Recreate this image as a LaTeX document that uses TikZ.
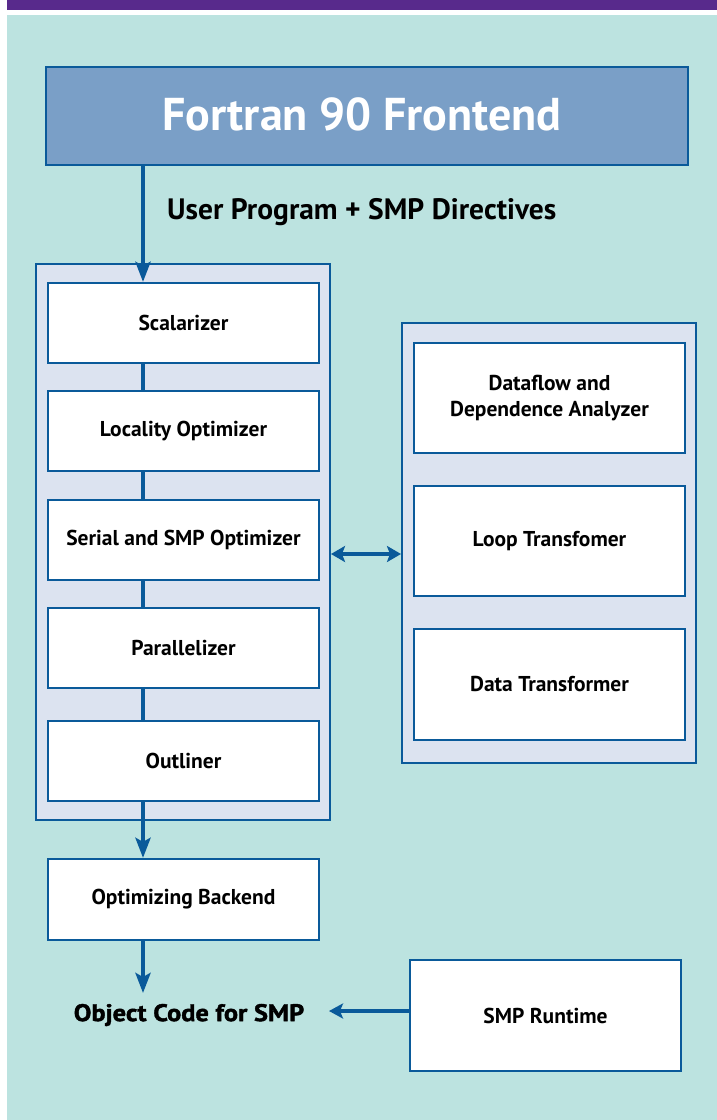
\documentclass[tikz,border=0pt]{standalone}
\usepackage{fontspec}
\setmainfont{PT Sans}
\newfontfamily\labelbold{PT Sans Bold}
\newfontfamily\heavy[FakeStretch=1.1,FakeBold=1.6]{PT Sans Bold}
\usetikzlibrary{arrows.meta,calc}
\definecolor{bgteal}{HTML}{BCE3E0}
\definecolor{topbar}{HTML}{582A8C}
\definecolor{edgeblue}{HTML}{0A5A9A}
\definecolor{frontfill}{HTML}{7A9FC7}
\definecolor{panelfill}{HTML}{DCE3F0}
\tikzset{
  panel/.style={draw=edgeblue,line width=2pt,fill=panelfill,rectangle,minimum width=294pt,inner sep=0pt},
  stage/.style={draw=edgeblue,line width=2.2pt,fill=white,rectangle,minimum width=271pt,inner sep=0pt,
    font=\labelbold\fontsize{21.5}{26}\selectfont,align=center},
  flow/.style={draw=edgeblue,line width=4pt},
  flowarrow/.style={flow,-{Stealth[length=20pt,width=15pt,inset=4pt]}},
  sidearrow/.style={flow,{Stealth[length=14pt,width=16pt,inset=3pt]}-{Stealth[length=14pt,width=16pt,inset=3pt]}},
}
\begin{document}
\begin{tikzpicture}[x=1pt,y=-1pt]
  \useasboundingbox (0,0) rectangle (717,1120);
  % page background and top band
  \fill[white] (0,0) rectangle (717,1120);
  \fill[topbar] (7,0) rectangle (717,10);
  \fill[bgteal] (7,15) rectangle (717,1120);

  % frontend
  \node[draw=edgeblue,line width=2pt,fill=frontfill,minimum width=642pt,minimum height=98pt,inner sep=0pt]
        (front) at (367,116) {};
  \node[text=white,font=\labelbold\fontsize{46}{50}\selectfont,inner sep=0pt] (fronttitle) at (362,114) {Fortran 90 Frontend};
  \node[anchor=west,font=\labelbold\fontsize{29.5}{32}\selectfont,inner sep=0pt] (userprog) at (167,212) {User Program + SMP Directives};

  % optimizer panel with its stages
  \node[panel,minimum height=556pt] (lpanel) at (183,542) {};
  \node[stage,minimum height=80pt] (scal) at (183.5,323) {Scalarizer};
  \node[stage,minimum height=80pt] (loc) at (183.5,431) {Locality Optimizer};
  \node[stage,minimum height=80pt] (ser) at (183.5,540) {Serial and SMP Optimizer};
  \node[stage,minimum height=80pt] (par) at (183.5,648) {Parallelizer};
  \node[stage,minimum height=80pt] (out) at (183.5,761) {Outliner};

  % analysis panel
  \node[panel,minimum height=440pt] (rpanel) at (549,543) {};
  \node[stage,minimum height=110pt] (dfa) at (549.5,398) {Dataflow and\\Dependence Analyzer};
  \node[stage,minimum height=110pt] (loop) at (549.5,541) {Loop Transfomer};
  \node[stage,minimum height=111pt] (data) at (549.5,684.5) {Data Transformer};

  % backend and runtime
  \node[stage,minimum height=81pt] (back) at (183.5,899.5) {Optimizing Backend};
  \node[stage,minimum height=111pt] (rt) at (545.5,1015.5) {SMP Runtime};
  \node[font=\heavy\fontsize{24}{27}\selectfont,inner sep=0pt] (obj) at (189,1015) {Object Code for SMP};

  % connectors
  \coordinate (spine) at (143,0);
  \coordinate (objtop) at (143,993);
  \coordinate (objright) at (329,1011);
  \draw[flowarrow] (front.south -| spine) -- (scal.north -| spine);
  \draw[flow] (scal.south -| spine) -- (loc.north -| spine);
  \draw[flow] (loc.south -| spine) -- (ser.north -| spine);
  \draw[flow] (ser.south -| spine) -- (par.north -| spine);
  \draw[flow] (par.south -| spine) -- (out.north -| spine);
  \draw[flowarrow] (out.south -| spine) -- (back.north -| spine);
  \draw[flowarrow] (back.south -| spine) -- (objtop);
  \draw[sidearrow] (lpanel.east |- 0,554) -- (rpanel.west |- 0,554);
  \draw[flow,-{Stealth[length=14pt,width=15pt,inset=3pt]}] (rt.west |- objright) -- (objright);
\end{tikzpicture}
\end{document}
